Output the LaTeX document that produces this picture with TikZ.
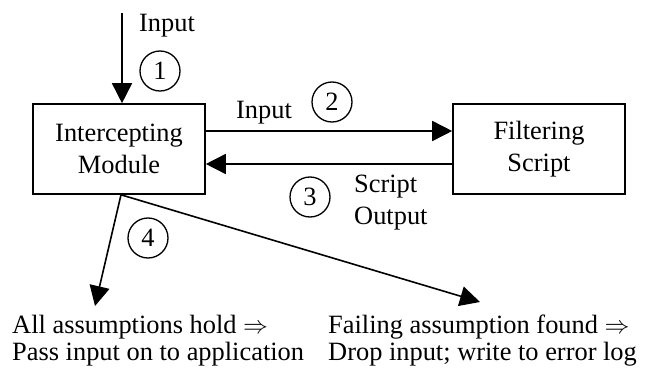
\documentclass[tikz,border=0pt]{standalone}
\usepackage{fontspec}
\setmainfont{Liberation Serif}
\usetikzlibrary{arrows.meta}
\begin{document}
\begin{tikzpicture}[x=1pt,y=-1pt,
  font=\fontsize{26.4}{31.7}\selectfont,
  box/.style={draw,line width=1.6pt,minimum width=172pt,minimum height=90pt,align=center,inner sep=0pt},
  num/.style={draw,circle,line width=1.3pt,minimum size=40pt,inner sep=0pt},
  arr/.style={line width=1.6pt,-{Triangle[length=20pt,width=20pt]}},
  lbl/.style={inner sep=0pt,align=left}]
\useasboundingbox (0,0) rectangle (651,372);
\node[box] (im) at (119,149) {Intercepting\\Module};
\node[box] (fs) at (539,149) {Filtering\\Script};
\coordinate (in0) at (122,13);
\draw[arr] (in0) -- (in0 |- im.north);
\node[lbl,anchor=base west] (tin) at (139,31) {Input};
\node[num] (n1) at (160,71) {1};
\draw[arr] ([yshift=18pt]im.east) -- ([yshift=18pt]fs.west);
\node[lbl,anchor=base west] (tin2) at (236,118) {Input};
\node[num] (n2) at (332,102) {2};
\draw[arr] ([yshift=-15pt]fs.west) -- ([yshift=-15pt]im.east);
\node[num] (n3) at (310,197) {3};
\node[lbl,anchor=north west] (so) at (354,175) {Script\\Output};
\coordinate (ta) at (95,306);
\coordinate (tb) at (480,302);
\draw[arr] ([xshift=2pt]im.south) -- (ta);
\draw[arr] ([xshift=2pt]im.south) -- (tb);
\node[num] (n4) at (148,238) {4};
\node[lbl,anchor=north west,font=\fontsize{26.4}{27}\selectfont] (ok) at (12,315) {All assumptions hold $\Rightarrow$\\Pass input on to application};
\node[lbl,anchor=north west,font=\fontsize{26.4}{27}\selectfont] (fail) at (328,315) {Failing assumption found $\Rightarrow$\\Drop input; write to error log};
\end{tikzpicture}
\end{document}
